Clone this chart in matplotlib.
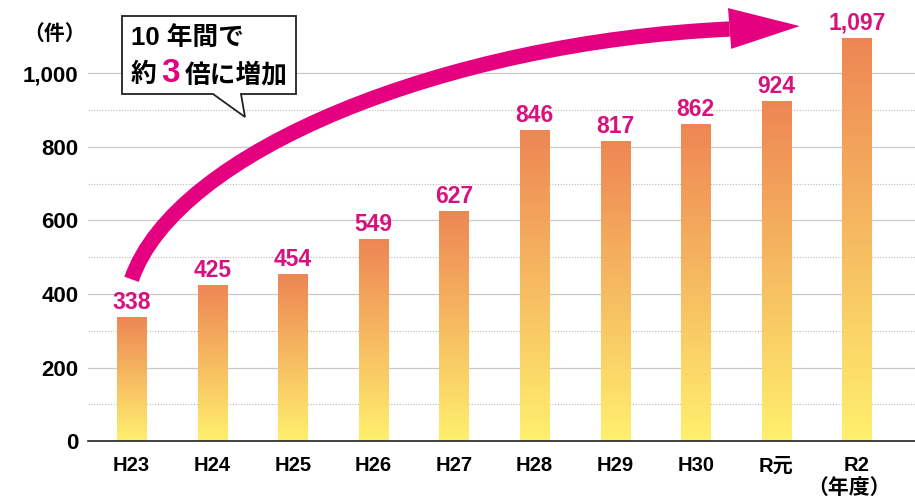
import numpy as np
import matplotlib
matplotlib.use("Agg")
from matplotlib import pyplot as plt
from matplotlib.path import Path
from matplotlib.patches import PathPatch, Polygon

plt.rcParams["font.family"] = ["Liberation Sans", "Noto Sans CJK JP", "DejaVu Sans"]
plt.rcParams["font.weight"] = "bold"

years = ["H23", "H24", "H25", "H26", "H27", "H28", "H29", "H30", "R元", "R2"]
counts = [338, 425, 454, 549, 627, 846, 817, 862, 924, 1097]
y_ticks = [0, 200, 400, 600, 800, 1000]

MAGENTA = "#E4007F"
LABEL = "#D6127E"
W, H = 915, 499

fig = plt.figure(figsize=(W / 100, H / 100), dpi=100)
ax = fig.add_axes([88 / W, (H - 441) / H, (W - 88) / W, 441 / H])


def px(x, y):
    # pixel position in the picture -> figure fraction
    return x / W, 1 - y / H


x = np.arange(len(years))
bars = ax.bar(x, counts, width=0.36, color="none", zorder=2)

# vertical gradient: yellow at the bottom, orange at the top
bottom = np.array([255, 240, 110]) / 255
top = np.array([238, 134, 84]) / 255
t = np.linspace(1, 0, 256)[:, None]
grad = (t * top + (1 - t) * bottom)[:, None, :]
for b in bars:
    im = ax.imshow(grad, extent=[b.get_x(), b.get_x() + b.get_width(), 0, b.get_height()],
                   aspect="auto", zorder=2, interpolation="bilinear")
    im.set_clip_path(b)

for xi, v in zip(x, counts):
    ax.text(xi, v + 8, f"{v:,}", ha="center", va="bottom", color=LABEL,
            fontsize=16.5, fontweight="bold", zorder=4)

ax.set_xlim(-0.54, 9.72)
ax.set_ylim(0, 1200)

# grid
for g in range(100, 1100, 100):
    if g % 200 == 0:
        ax.axhline(g, color="#c8c8c8", lw=0.9, zorder=1)
    else:
        ax.axhline(g, color="#b8b8b8", lw=0.8, ls=(0, (1, 1.5)), zorder=1)

for s in ["top", "right", "left"]:
    ax.spines[s].set_visible(False)
ax.spines["bottom"].set_color("#222222")
ax.spines["bottom"].set_linewidth(1.2)
ax.spines["bottom"].set_zorder(3)

ax.set_yticks(y_ticks)
ax.set_yticklabels([f"{v:,}" for v in y_ticks], fontsize=16, fontweight="bold")
ax.set_xticks(x)
ax.set_xticklabels(years, fontsize=14.5, fontweight="bold")
ax.tick_params(length=0)
ax.tick_params(axis="y", pad=7)
ax.tick_params(axis="x", pad=11)

fig.text(*px(55, 34), "（件）", ha="center", va="center", fontsize=15, fontweight="bold")
fig.text(*px(849, 488), "（年度）", ha="center", va="center", fontsize=15, fontweight="bold")

# curved arrow (data coordinates)
verts = [(0.0, 440), (0.55, 790), (3.9, 1085), (7.42, 1121)]
body = PathPatch(Path(verts, [Path.MOVETO, Path.CURVE4, Path.CURVE4, Path.CURVE4]),
                 fill=False, edgecolor=MAGENTA, lw=11, capstyle="butt", zorder=5)
ax.add_patch(body)
head = Polygon([(7.40, 1178), (8.29, 1129), (7.44, 1067)], closed=True,
               facecolor=MAGENTA, edgecolor="none", zorder=5)
ax.add_patch(head)

# speech bubble
bubble_px = [(122, 16), (296, 16), (296, 94), (241, 94), (245, 117), (213, 94), (122, 94)]
bubble = Polygon([px(a, b) for a, b in bubble_px], closed=True, transform=fig.transFigure,
                 facecolor="white", edgecolor="#222222", lw=1.3, zorder=10)
fig.patches.append(bubble)

fig.text(*px(131, 38), "10 年間で", ha="left", va="center", fontsize=18.5,
         fontweight="bold", zorder=11)
fig.text(*px(131, 75), "約", ha="left", va="center", fontsize=18.5,
         fontweight="bold", zorder=11)
fig.text(*px(161, 74), "3", ha="left", va="center", fontsize=24,
         fontweight="bold", color=MAGENTA, zorder=11)
fig.text(*px(185, 75), "倍に増加", ha="left", va="center", fontsize=18.5,
         fontweight="bold", zorder=11)

fig.savefig("out.png", dpi=100, facecolor="white")
